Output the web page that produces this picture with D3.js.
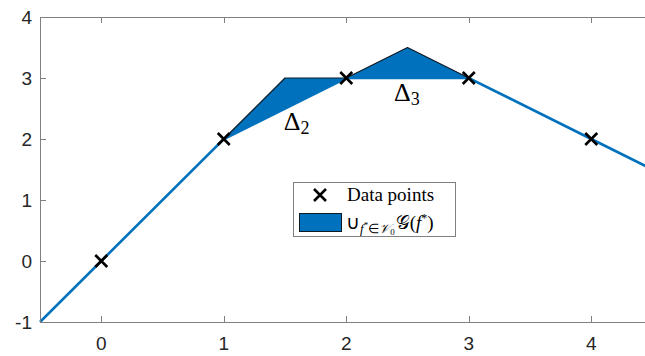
<!DOCTYPE html>
<html>
<head>
<meta charset="utf-8">
<script src="https://cdn.jsdelivr.net/npm/d3@7"></script>
<style>
  body { margin: 0; background: #fff; }
  svg { display: block; }
</style>
</head>
<body>
<svg id="chart" width="645" height="356"></svg>
<script>
// data
const lineX = [-0.5, 1, 2, 3, 4, 4.5];
const lineY = [-1, 2, 3, 3, 2, 1.5];
const pointX = [0, 1, 2, 3, 4];
const pointY = [0, 2, 3, 3, 2];
const region2 = [[1, 2], [1.5, 3], [2, 3]];
const region3 = [[2, 3], [2.5, 3.5], [3, 3]];
const xTicks = [0, 1, 2, 3, 4];
const yTicks = [-1, 0, 1, 2, 3, 4];

const svg = d3.select('#chart');
const x = d3.scaleLinear().domain([-0.5, 4.5]).range([40, 652.5]);
const y = d3.scaleLinear().domain([-1, 4]).range([322, 17]);
const blue = '#0072BD';
const axisCol = '#808080';
const serif = "'Liberation Serif', serif";
const sans = "'Liberation Sans', Arial, sans-serif";

const plot = svg.append('g');

// shaded regions
const poly = d3.line().x(d => x(d[0])).y(d => y(d[1]));
[region2, region3].forEach(r => {
  plot.append('path')
    .attr('d', poly(r) + 'Z')
    .attr('fill', blue)
    .attr('stroke', '#0d1a26')
    .attr('stroke-width', 1.2)
    .attr('stroke-linejoin', 'round');
});

// line
const lineData = lineX.map((v, i) => [v, lineY[i]]);
plot.append('path')
  .attr('d', poly(lineData))
  .attr('fill', 'none')
  .attr('stroke', blue)
  .attr('stroke-width', 2.6);

// markers
const m = 6;
pointX.forEach((v, i) => {
  const cx = x(v), cy = y(pointY[i]);
  plot.append('path')
    .attr('d', `M${cx - m},${cy - m}L${cx + m},${cy + m}M${cx - m},${cy + m}L${cx + m},${cy - m}`)
    .attr('stroke', '#000')
    .attr('stroke-width', 2.6);
});

// axes box
const ax = svg.append('g');
ax.append('line').attr('x1', 40).attr('x2', 645).attr('y1', 17.5).attr('y2', 17.5).attr('stroke', axisCol);
ax.append('line').attr('x1', 40).attr('x2', 645).attr('y1', 322.5).attr('y2', 322.5).attr('stroke', axisCol);
ax.append('line').attr('x1', 40.5).attr('x2', 40.5).attr('y1', 17).attr('y2', 323).attr('stroke', axisCol);

xTicks.forEach(t => {
  const px = Math.round(x(t)) + 0.5;
  ax.append('line').attr('x1', px).attr('x2', px).attr('y1', 322).attr('y2', 316).attr('stroke', axisCol);
  ax.append('line').attr('x1', px).attr('x2', px).attr('y1', 17).attr('y2', 23).attr('stroke', axisCol);
  ax.append('text').attr('x', x(t)).attr('y', 350)
    .attr('text-anchor', 'middle')
    .attr('font-family', sans)
    .attr('font-size', 19).attr('fill', '#262626').text(t);
});
yTicks.forEach(t => {
  const py = Math.round(y(t)) + 0.5;
  ax.append('line').attr('x1', 40).attr('x2', 46).attr('y1', py).attr('y2', py).attr('stroke', axisCol);
  ax.append('text').attr('x', 32).attr('y', y(t) + 7)
    .attr('text-anchor', 'end')
    .attr('font-family', sans)
    .attr('font-size', 19).attr('fill', '#262626').text(t);
});

// delta labels
function deltaLabel(dx, dy, sub) {
  const t = svg.append('text')
    .attr('x', x(dx)).attr('y', y(dy))
    .attr('font-family', serif)
    .attr('font-size', 26).attr('fill', '#000');
  t.append('tspan').text('Δ');
  t.append('tspan').attr('font-size', 18).attr('dy', 4).text(sub);
}
deltaLabel(1.49, 2.15, '2');
deltaLabel(2.39, 2.62, '3');

// legend
const lg = svg.append('g');
lg.append('rect').attr('x', 293.5).attr('y', 182.5).attr('width', 162).attr('height', 54)
  .attr('fill', '#fff').attr('stroke', axisCol);
const lx = 320, ly = 195;
lg.append('path')
  .attr('d', `M${lx - m},${ly - m}L${lx + m},${ly + m}M${lx - m},${ly + m}L${lx + m},${ly - m}`)
  .attr('stroke', '#000').attr('stroke-width', 2.6);
lg.append('text').attr('x', 347).attr('y', 201)
  .attr('font-family', serif)
  .attr('font-size', 19).attr('fill', '#000').text('Data points');
lg.append('rect').attr('x', 299.5).attr('y', 213.5).attr('width', 42).attr('height', 18)
  .attr('fill', blue).attr('stroke', '#0d1a26');
const lt = lg.append('text').attr('x', 346).attr('y', 229)
  .attr('font-family', serif)
  .attr('font-size', 19).attr('fill', '#000');
lt.append('tspan').text('∪');
lt.append('tspan').attr('font-size', 13).attr('dy', 4).attr('font-style', 'italic').text('f');
lt.append('tspan').attr('font-size', 9).attr('dy', -5).text('*');
lt.append('tspan').attr('font-size', 13).attr('dy', 5).text('∈');
lt.append('tspan').attr('font-size', 13).attr('font-style', 'italic').text('𝒱');
lt.append('tspan').attr('font-size', 9).attr('dy', 2).text('0');
lt.append('tspan').attr('dy', -6).attr('dx', 1).text('𝒢(');
lt.append('tspan').attr('font-style', 'italic').text('f');
lt.append('tspan').attr('font-size', 12).attr('dy', -7).text('*');
lt.append('tspan').attr('dy', 7).text(')');
</script>
</body>
</html>
